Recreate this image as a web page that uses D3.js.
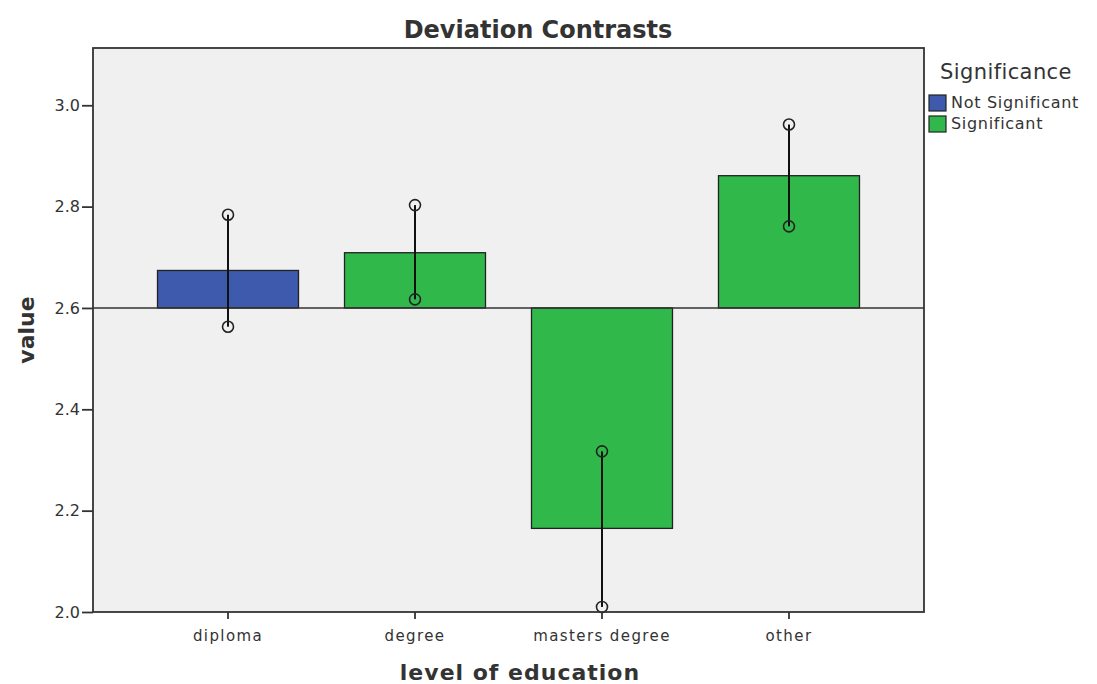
<!DOCTYPE html>
<html>
<head>
<meta charset="utf-8">
<script src="https://cdn.jsdelivr.net/npm/d3@7"></script>
<style>
  body { margin: 0; background: #fff; }
  text { font-family: 'DejaVu Sans', sans-serif; fill: #333; }
</style>
</head>
<body>
<div id="chart"></div>
<script>
// data
const categories = ['diploma', 'degree', 'masters degree', 'other'];
const contrastValues = [2.674, 2.709, 2.165, 2.861];
const lowerBounds = [2.563, 2.617, 2.01, 2.761];
const upperBounds = [2.784, 2.803, 2.317, 2.962];
const significance = ['Not Significant', 'Significant', 'Significant', 'Significant'];
const legendLabels = ['Not Significant', 'Significant'];
const yTicks = [2.0, 2.2, 2.4, 2.6, 2.8, 3.0];
const referenceValue = 2.6;

const width = 1097;
const height = 684;
const margins = { top: 48, bottom: 72, left: 93, right: 173 };

const svg = d3.select('#chart')
    .append('svg')
    .attr('width', width)
    .attr('height', height);

const plotWidth = width - margins.left - margins.right;
const plotHeight = height - margins.top - margins.bottom;

const xScale = d3.scaleBand()
    .domain(categories)
    .range([margins.left, margins.left + plotWidth])
    .paddingInner(0.246)
    .paddingOuter(0.345);

const yScale = d3.scaleLinear()
    .domain([2.0, 3.113])
    .range([margins.top + plotHeight, margins.top]);

const colour = d3.scaleOrdinal()
    .domain(legendLabels)
    .range(['#3e5aad', '#31b84b']);

// plot background
svg.append('rect')
    .attr('x', margins.left)
    .attr('y', margins.top)
    .attr('width', plotWidth)
    .attr('height', plotHeight)
    .attr('fill', '#f0f0f0');

// bars from the reference line
const bars = categories.map((c, i) => ({
    cat: c, value: contrastValues[i], lo: lowerBounds[i], hi: upperBounds[i], sig: significance[i]
}));

svg.append('g')
    .selectAll('rect')
    .data(bars)
    .enter()
    .append('rect')
    .attr('x', d => xScale(d.cat))
    .attr('width', xScale.bandwidth())
    .attr('y', d => yScale(Math.max(d.value, referenceValue)))
    .attr('height', d => Math.abs(yScale(d.value) - yScale(referenceValue)))
    .attr('fill', d => colour(d.sig))
    .attr('stroke', '#222')
    .attr('stroke-width', 1.3);

// reference line
svg.append('line')
    .attr('x1', margins.left)
    .attr('x2', margins.left + plotWidth)
    .attr('y1', yScale(referenceValue))
    .attr('y2', yScale(referenceValue))
    .attr('stroke', '#333')
    .attr('stroke-width', 1.5);

// error bars
const errs = svg.append('g');
errs.selectAll('line')
    .data(bars)
    .enter()
    .append('line')
    .attr('x1', d => xScale(d.cat) + xScale.bandwidth() / 2)
    .attr('x2', d => xScale(d.cat) + xScale.bandwidth() / 2)
    .attr('y1', d => yScale(d.lo))
    .attr('y2', d => yScale(d.hi))
    .attr('stroke', '#111')
    .attr('stroke-width', 2);

const ends = bars.flatMap(d => [{ cat: d.cat, v: d.lo }, { cat: d.cat, v: d.hi }]);
errs.selectAll('circle')
    .data(ends)
    .enter()
    .append('circle')
    .attr('cx', d => xScale(d.cat) + xScale.bandwidth() / 2)
    .attr('cy', d => yScale(d.v))
    .attr('r', 5.5)
    .attr('fill', 'none')
    .attr('stroke', '#222')
    .attr('stroke-width', 1.6);

// frame
svg.append('rect')
    .attr('x', margins.left)
    .attr('y', margins.top)
    .attr('width', plotWidth)
    .attr('height', plotHeight)
    .attr('fill', 'none')
    .attr('stroke', '#333')
    .attr('stroke-width', 1.8);

// axes
const yAxis = d3.axisLeft(yScale)
    .tickValues(yTicks)
    .tickFormat(d3.format('.1f'))
    .tickSize(11)
    .tickPadding(2);

svg.append('g')
    .classed('y-axis', true)
    .attr('transform', `translate(${margins.left}, 0)`)
    .call(yAxis)
    .call(g => g.select('.domain').remove())
    .call(g => g.selectAll('line').attr('stroke', '#333').attr('stroke-width', 1.8))
    .call(g => g.selectAll('text').style('font-size', '16px').attr('fill', '#333'));

const xAxis = d3.axisBottom(xScale)
    .tickSize(7)
    .tickPadding(11);

svg.append('g')
    .classed('x-axis', true)
    .attr('transform', `translate(0, ${margins.top + plotHeight})`)
    .call(xAxis)
    .call(g => g.select('.domain').remove())
    .call(g => g.selectAll('line').attr('stroke', '#333').attr('stroke-width', 1.8))
    .call(g => g.selectAll('text')
        .style('font-size', '15px')
        .style('letter-spacing', '1.4px')
        .attr('fill', '#333'));

// titles
svg.append('text')
    .attr('x', 538)
    .attr('y', 38)
    .attr('text-anchor', 'middle')
    .style('font-size', '24px')
    .style('font-weight', 'bold')
    .attr('fill', '#111')
    .text('Deviation Contrasts');

svg.append('text')
    .attr('x', 520)
    .attr('y', 680)
    .attr('text-anchor', 'middle')
    .style('font-size', '22px')
    .style('font-weight', 'bold')
    .style('letter-spacing', '1px')
    .attr('fill', '#111')
    .text('level of education');

svg.append('text')
    .attr('transform', 'translate(34, 330) rotate(-90)')
    .attr('text-anchor', 'middle')
    .style('font-size', '22px')
    .style('font-weight', 'bold')
    .attr('fill', '#111')
    .text('value');

// legend
const legend = svg.append('g')
    .attr('transform', 'translate(929, 0)');

legend.append('text')
    .attr('x', 11)
    .attr('y', 79)
    .style('font-size', '21px')
    .style('letter-spacing', '0.4px')
    .text('Significance');

const items = legend.selectAll('.item')
    .data(legendLabels)
    .enter()
    .append('g')
    .classed('item', true)
    .attr('transform', (d, i) => `translate(0, ${95 + i * 21})`);

items.append('rect')
    .attr('width', 17)
    .attr('height', 16)
    .attr('fill', d => colour(d))
    .attr('stroke', '#222')
    .attr('stroke-width', 1.2);

items.append('text')
    .attr('x', 22)
    .attr('y', 13)
    .style('font-size', '16px')
    .style('letter-spacing', '0.7px')
    .text(d => d);
</script>
</body>
</html>
